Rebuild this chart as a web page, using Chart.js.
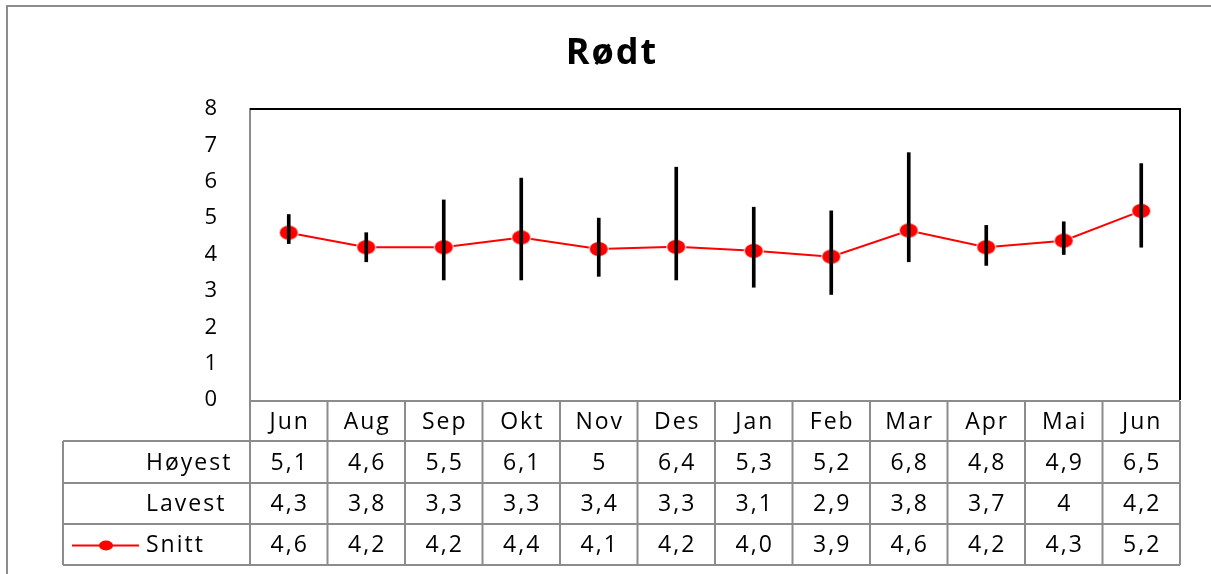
<!DOCTYPE html>
<html>
<head>
<meta charset="utf-8">
<script src="https://cdn.jsdelivr.net/npm/chart.js@4/dist/chart.umd.min.js"></script>
<style>
  html, body { margin: 0; padding: 0; background: #fff; }
  #wrap { width: 1211px; height: 574px; }
</style>
</head>
<body>
<div id="wrap"><canvas id="chart" width="1211" height="574"></canvas></div>
<script>
  const categories = ['Jun', 'Aug', 'Sep', 'Okt', 'Nov', 'Des', 'Jan', 'Feb', 'Mar', 'Apr', 'Mai', 'Jun'];
  const hoyest = [5.1, 4.6, 5.5, 6.1, 5, 6.4, 5.3, 5.2, 6.8, 4.8, 4.9, 6.5];
  const lavest = [4.3, 3.8, 3.3, 3.3, 3.4, 3.3, 3.1, 2.9, 3.8, 3.7, 4, 4.2];
  // plotted averages (read from the points) and the rounded text shown in the table
  const snitt = [4.6, 4.2, 4.2, 4.47, 4.15, 4.21, 4.1, 3.94, 4.66, 4.2, 4.38, 5.2];
  const snittTekst = ['4,6', '4,2', '4,2', '4,4', '4,1', '4,2', '4,0', '3,9', '4,6', '4,2', '4,3', '5,2'];
  const radNavn = ['Høyest', 'Lavest', 'Snitt'];

  const FONT = '"Open Sans", "DejaVu Sans", sans-serif';
  const GRAY = '#8c8c8c';

  // oval red marker like the original
  const marker = document.createElement('canvas');
  marker.width = 22; marker.height = 18;
  (function () {
    const c = marker.getContext('2d');
    c.beginPath();
    c.ellipse(11, 9, 9.5, 7.5, 0, 0, Math.PI * 2);
    c.fillStyle = '#ff0000';
    c.fill();
    c.lineWidth = 1;
    c.strokeStyle = '#ffffff';
    c.stroke();
  })();

  const fmt = v => String(v).replace('.', ',');

  const framePlugin = {
    id: 'frameTable',
    afterDraw(chart) {
      const ctx = chart.ctx;
      const area = chart.chartArea;
      const x = chart.scales.x;
      const half = (area.right - area.left) / categories.length / 2;
      ctx.save();

      // outer frame
      ctx.strokeStyle = GRAY;
      ctx.lineWidth = 2;
      ctx.beginPath();
      ctx.moveTo(7, 574); ctx.lineTo(7, 6); ctx.lineTo(1211, 6);
      ctx.stroke();

      // title
      ctx.fillStyle = '#000';
      ctx.font = 'bold 36px ' + FONT;
      ctx.textAlign = 'center';
      ctx.textBaseline = 'alphabetic';
      ctx.letterSpacing = '2px';
      ctx.fillText('Rødt', 612, 64);

      // plot top and right border
      ctx.strokeStyle = '#000';
      ctx.lineWidth = 2;
      ctx.beginPath();
      ctx.moveTo(area.left, area.top); ctx.lineTo(area.right, area.top); ctx.lineTo(area.right, area.bottom);
      ctx.stroke();

      // data table
      const rows = [401, 441, 483, 524, 565];
      const tableLeft = 63;
      ctx.strokeStyle = GRAY;
      ctx.lineWidth = 2;
      ctx.beginPath();
      ctx.moveTo(area.left, rows[0]); ctx.lineTo(area.right, rows[0]);
      for (let r = 1; r < rows.length; r++) {
        ctx.moveTo(tableLeft, rows[r]); ctx.lineTo(area.right, rows[r]);
      }
      ctx.moveTo(tableLeft, rows[1]); ctx.lineTo(tableLeft, rows[4]);
      ctx.moveTo(area.left, area.bottom); ctx.lineTo(area.left, rows[4]);
      for (let i = 0; i < categories.length; i++) {
        const xr = x.getPixelForValue(i) + half;
        ctx.moveTo(xr, rows[0]); ctx.lineTo(xr, rows[4]);
      }
      ctx.stroke();

      ctx.fillStyle = '#000';
      ctx.textBaseline = 'middle';
      ctx.font = '23px ' + FONT;
      ctx.letterSpacing = '2px';
      ctx.textAlign = 'center';
      const tableRows = [hoyest.map(fmt), lavest.map(fmt), snittTekst];
      categories.forEach((c, i) => {
        const cx = x.getPixelForValue(i) + 1;
        ctx.fillText(c, cx, 422);
        tableRows.forEach((vals, r) => {
          ctx.fillText(vals[i], cx, (rows[r + 1] + rows[r + 2]) / 2 + 1);
        });
      });

      ctx.textAlign = 'left';
      radNavn.forEach((n, r) => {
        ctx.fillText(n, 146, (rows[r + 1] + rows[r + 2]) / 2 + 1);
      });

      // legend key for Snitt
      const ky = (rows[3] + rows[4]) / 2 + 1;
      ctx.strokeStyle = '#ff0000';
      ctx.lineWidth = 2;
      ctx.beginPath();
      ctx.moveTo(72, ky); ctx.lineTo(139, ky);
      ctx.stroke();
      ctx.fillStyle = '#ff0000';
      ctx.beginPath();
      ctx.ellipse(106, ky, 7, 5, 0, 0, Math.PI * 2);
      ctx.fill();

      ctx.restore();
    }
  };

  new Chart(document.getElementById('chart'), {
    type: 'bar',
    data: {
      labels: categories,
      datasets: [
        {
          type: 'bar',
          label: 'Høyest/Lavest',
          data: lavest.map((l, i) => [l, hoyest[i]]),
          backgroundColor: '#000',
          borderWidth: 0,
          borderSkipped: false,
          barThickness: 3,
          order: 0
        },
        {
          type: 'line',
          label: 'Snitt',
          data: snitt,
          borderColor: '#ff0000',
          borderWidth: 2,
          pointStyle: marker,
          tension: 0,
          order: 1
        }
      ]
    },
    options: {
      responsive: false,
      animation: false,
      layout: { padding: { left: 0, top: 109, right: 31, bottom: 174 } },
      plugins: {
        legend: { display: false },
        tooltip: { enabled: false },
        title: { display: false }
      },
      scales: {
        x: {
          display: false,
          offset: true
        },
        y: {
          min: 0,
          max: 8,
          afterFit(scale) { scale.width = 250; },
          grid: { display: false, drawTicks: false },
          border: { display: true, color: GRAY, width: 2 },
          ticks: {
            stepSize: 1,
            padding: 33,
            color: '#000',
            font: { family: FONT, size: 22 }
          }
        }
      }
    },
    plugins: [framePlugin]
  });
</script>
</body>
</html>
